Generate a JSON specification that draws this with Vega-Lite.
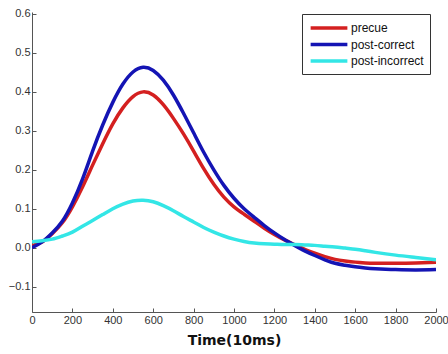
{
  "$schema": "https://vega.github.io/schema/vega-lite/v6.json",
  "width": 404,
  "height": 300,
  "autosize": "none",
  "padding": {"left": 32, "top": 12, "right": 12, "bottom": 42},
  "background": "white",
  "config": {
    "view": {"stroke": null},
    "font": "Liberation Sans"
  },
  "datasets": {
    "curves": [
      {"t": 0, "precue": 0.005, "post-correct": 0.0, "post-incorrect": 0.015},
      {"t": 50, "precue": 0.015, "post-correct": 0.015, "post-incorrect": 0.018},
      {"t": 100, "precue": 0.036, "post-correct": 0.038, "post-incorrect": 0.022},
      {"t": 150, "precue": 0.064, "post-correct": 0.068, "post-incorrect": 0.03},
      {"t": 200, "precue": 0.105, "post-correct": 0.115, "post-incorrect": 0.04},
      {"t": 250, "precue": 0.156, "post-correct": 0.176, "post-incorrect": 0.055},
      {"t": 300, "precue": 0.212, "post-correct": 0.248, "post-incorrect": 0.07},
      {"t": 350, "precue": 0.267, "post-correct": 0.315, "post-incorrect": 0.085},
      {"t": 400, "precue": 0.318, "post-correct": 0.373, "post-incorrect": 0.1},
      {"t": 450, "precue": 0.359, "post-correct": 0.42, "post-incorrect": 0.112},
      {"t": 500, "precue": 0.388, "post-correct": 0.451, "post-incorrect": 0.12},
      {"t": 550, "precue": 0.4, "post-correct": 0.463, "post-incorrect": 0.122},
      {"t": 600, "precue": 0.392, "post-correct": 0.455, "post-incorrect": 0.118},
      {"t": 650, "precue": 0.367, "post-correct": 0.43, "post-incorrect": 0.108},
      {"t": 700, "precue": 0.332, "post-correct": 0.392, "post-incorrect": 0.095},
      {"t": 750, "precue": 0.292, "post-correct": 0.345, "post-incorrect": 0.08},
      {"t": 800, "precue": 0.248, "post-correct": 0.295, "post-incorrect": 0.066},
      {"t": 850, "precue": 0.203, "post-correct": 0.245, "post-incorrect": 0.052},
      {"t": 900, "precue": 0.163, "post-correct": 0.2, "post-incorrect": 0.04},
      {"t": 950, "precue": 0.13, "post-correct": 0.16, "post-incorrect": 0.03},
      {"t": 1000, "precue": 0.105, "post-correct": 0.127, "post-incorrect": 0.022},
      {"t": 1050, "precue": 0.086, "post-correct": 0.1, "post-incorrect": 0.016},
      {"t": 1100, "precue": 0.068, "post-correct": 0.078, "post-incorrect": 0.012},
      {"t": 1150, "precue": 0.05, "post-correct": 0.057, "post-incorrect": 0.01},
      {"t": 1200, "precue": 0.034, "post-correct": 0.038, "post-incorrect": 0.009},
      {"t": 1250, "precue": 0.02, "post-correct": 0.021, "post-incorrect": 0.008},
      {"t": 1300, "precue": 0.008, "post-correct": 0.006, "post-incorrect": 0.008},
      {"t": 1350, "precue": -0.004, "post-correct": -0.008, "post-incorrect": 0.007},
      {"t": 1400, "precue": -0.014, "post-correct": -0.02, "post-incorrect": 0.006},
      {"t": 1450, "precue": -0.023, "post-correct": -0.031, "post-incorrect": 0.004},
      {"t": 1500, "precue": -0.03, "post-correct": -0.04, "post-incorrect": 0.002},
      {"t": 1550, "precue": -0.034, "post-correct": -0.045, "post-incorrect": -0.001},
      {"t": 1600, "precue": -0.037, "post-correct": -0.049, "post-incorrect": -0.004},
      {"t": 1650, "precue": -0.039, "post-correct": -0.052, "post-incorrect": -0.008},
      {"t": 1700, "precue": -0.04, "post-correct": -0.054, "post-incorrect": -0.012},
      {"t": 1800, "precue": -0.04, "post-correct": -0.056, "post-incorrect": -0.019},
      {"t": 1900, "precue": -0.039, "post-correct": -0.057, "post-incorrect": -0.025},
      {"t": 2000, "precue": -0.037, "post-correct": -0.056, "post-incorrect": -0.031}
    ]
  },
  "data": {"name": "curves"},
  "transform": [
    {"fold": ["precue", "post-correct", "post-incorrect"], "as": ["series", "value"]}
  ],
  "mark": {"type": "line", "strokeWidth": 3.5, "interpolate": "natural", "clip": true},
  "encoding": {
    "x": {
      "field": "t", "type": "quantitative",
      "scale": {"domain": [0, 2000], "nice": false, "zero": false},
      "axis": {
        "title": "Time(10ms)", "titleFontWeight": "bold", "titleFontSize": 14, "titleColor": "#111",
        "titleFont": "DejaVu Sans", "titlePadding": 8, "format": "d",
        "values": [0, 200, 400, 600, 800, 1000, 1200, 1400, 1600, 1800, 2000],
        "grid": false, "tickSize": -4, "labelPadding": 6, "labelFontSize": 11, "labelColor": "#333",
        "domainColor": "#555", "tickColor": "#555", "labelFlush": false, "labelOverlap": false
      }
    },
    "y": {
      "field": "value", "type": "quantitative",
      "scale": {"domain": [-0.165, 0.605], "nice": false, "zero": false},
      "axis": {
        "title": null, "values": [-0.1, 0, 0.1, 0.2, 0.3, 0.4, 0.5, 0.6],
        "grid": false, "tickSize": -4, "labelPadding": 6, "labelFontSize": 11, "labelColor": "#333",
        "domainColor": "#555", "tickColor": "#555", "labelFlush": false, "labelOverlap": false
      }
    },
    "color": {
      "field": "series", "type": "nominal",
      "scale": {"domain": ["precue", "post-correct", "post-incorrect"], "range": ["#d42020", "#1414b4", "#33e6e6"]},
      "legend": {
        "title": null, "orient": "none", "legendX": 270, "legendY": 2,
        "symbolType": "M-3,0H3", "symbolSize": 150, "symbolStrokeWidth": 3.5,
        "symbolOffset": 13, "labelOffset": 14,
        "labelFontSize": 12, "labelColor": "#111", "strokeColor": "#333", "fillColor": "white",
        "padding": 6, "rowPadding": 1.5
      }
    }
  }
}
